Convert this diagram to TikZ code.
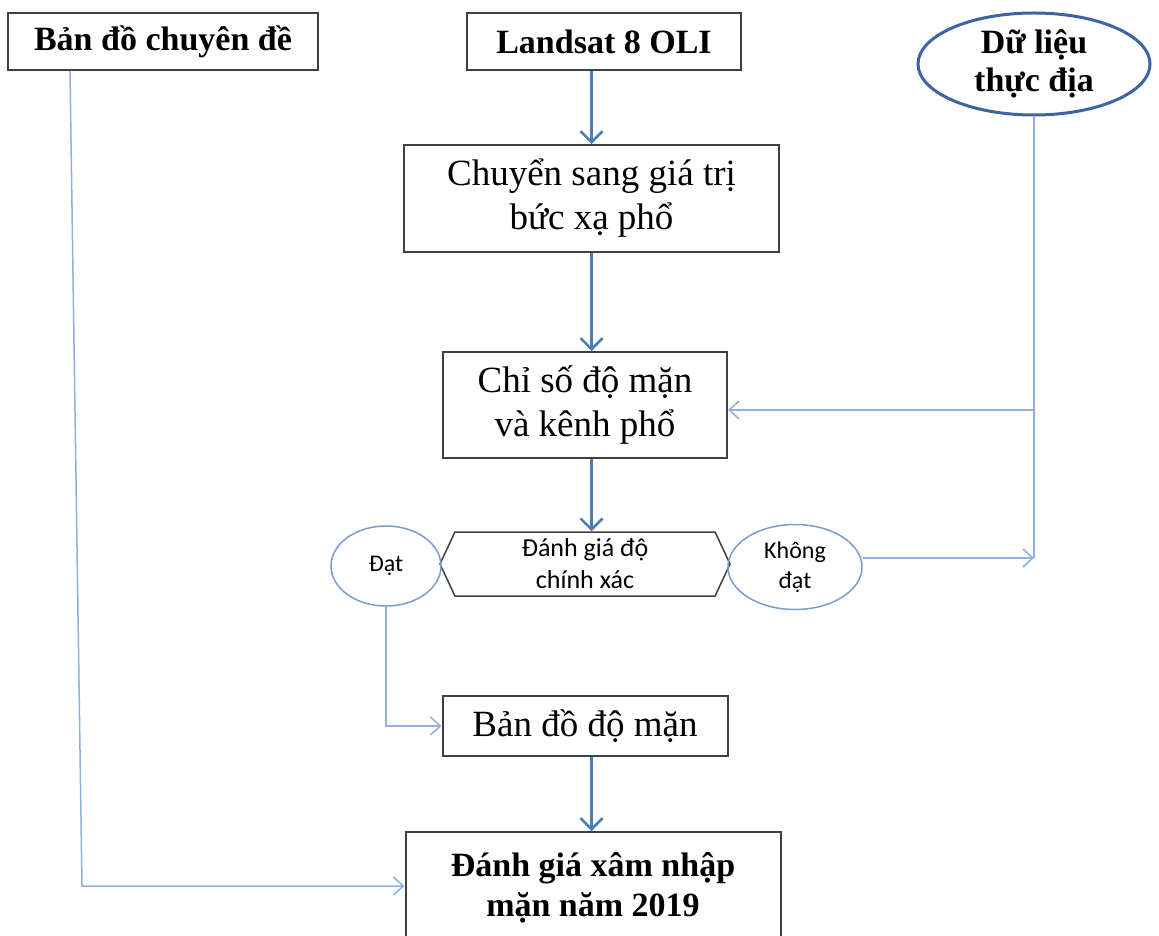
\documentclass[tikz,border=0pt]{standalone}
\usepackage{fontspec}
\setmainfont{Liberation Serif}
\newfontfamily\calibfont{Carlito}
\usetikzlibrary{positioning,shapes.geometric,shapes.symbols,arrows.meta}
\definecolor{boxgray}{HTML}{404040}
\definecolor{darkflow}{HTML}{4A7EBB}
\definecolor{lightflow}{HTML}{8DB0DE}
\definecolor{ovalblue}{HTML}{3C65A0}
\definecolor{smallblue}{HTML}{7C9CCB}
\begin{document}
\begin{tikzpicture}[x=1pt,y=-1pt,node distance=100pt,on grid,
  box/.style={draw=boxgray,line width=2pt,inner sep=0pt,align=center},
  bigbold/.style={font=\fontsize{34}{40}\selectfont\bfseries},
  plain/.style={font=\fontsize{37}{44}\selectfont},
  oval/.style={ellipse,draw=smallblue,line width=1.5pt,inner sep=0pt,align=center,
    font=\calibfont\fontsize{24}{30}\selectfont},
  darrow/.style={draw=darkflow,line width=2.5pt,-{Straight Barb[length=11pt,width=22pt]}},
  larrow/.style={draw=lightflow,line width=1.5pt,-{Straight Barb[length=10pt,width=18pt]}},
  lline/.style={draw=lightflow,line width=1.5pt}]
  \useasboundingbox[fill=white] (0,0) rectangle (1159,936);

  \node[box,plain,minimum width=375pt,minimum height=107pt] (conv) at (591.5,198.5)
    {Chuyển sang giá trị\\bức xạ phổ};
  \node[box,bigbold,minimum width=274pt,minimum height=57pt] (land)
    [above=157pt of conv,xshift=12.5pt] {Landsat 8 OLI};
  \node[box,bigbold,minimum width=310pt,minimum height=57pt] (bdcd)
    [left=441pt of land] {Bản đồ chuyên đề};
  \node[ellipse,draw=ovalblue,line width=3pt,inner sep=0pt,align=center,bigbold,
    font=\fontsize{34}{38}\selectfont\bfseries,minimum width=232pt,minimum height=102pt] (dl)
    [right=430pt of land,yshift=-22.5pt] {Dữ liệu\\thực địa};
  \node[box,plain,minimum width=284pt,minimum height=106pt] (idx)
    [below=206.5pt of conv,xshift=-6.5pt] {Chỉ số độ mặn\\và kênh phổ};
  \node[signal,signal to=west and east,signal pointer angle=130,draw=boxgray,
    line width=1.5pt,inner sep=0pt,align=center,font=\calibfont\fontsize{26}{32}\selectfont,
    minimum width=290pt,minimum height=64pt] (eval)
    [below=159pt of idx] {Đánh giá độ\\chính xác};
  \node[oval,minimum width=110pt,minimum height=80pt] (dat)
    [left=199pt of eval,yshift=-2pt] {Đạt};
  \node[oval,minimum width=134pt,minimum height=85pt] (kd)
    [right=210pt of eval,yshift=-3pt] {Không\\đạt};
  \node[box,plain,minimum width=285pt,minimum height=60pt] (bdm)
    [below=162pt of eval] {Bản đồ độ mặn};
  \node[box,bigbold,minimum width=375pt,minimum height=112pt] (final)
    [below=162pt of bdm,xshift=8pt] {Đánh giá xâm nhập\\mặn năm 2019};

  \coordinate (c1) at (70,71);
  \coordinate (c2) at (82,886);
  \coordinate (c3) at (1034,558);
  \coordinate (c4) at (1034,410);

  % main flow
  \draw[darrow] (land.south -| conv.north) -- (conv.north);
  \draw[darrow] (conv.south) -- (conv.south |- idx.north);
  \draw[darrow] (conv.south |- idx.south) -- (conv.south |- eval.north);
  \draw[darrow] (conv.south |- bdm.south) -- (conv.south |- final.north);

  % side links
  \draw[larrow] (c1) -- (c2) -- (c2 -| final.west);
  \draw[lline] (dl.south) -- (c3);
  \draw[larrow] (kd.east |- c3) -- (c3);
  \draw[larrow] (c4) -- (c4 -| idx.east);
  \draw[larrow] (dat.south) -- (dat.south |- bdm.west) -- (bdm.west);
\end{tikzpicture}
\end{document}
